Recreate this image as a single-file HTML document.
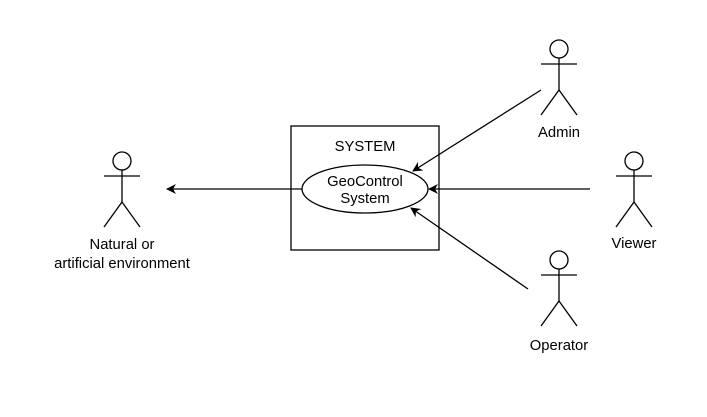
<!DOCTYPE html>
<html><head><style>body{margin:0;background:#fff}svg{display:block}</style></head><body>
<svg width="707" height="417" xmlns="http://www.w3.org/2000/svg" font-family="Liberation Sans, Arial, sans-serif" font-size="14.8">
<defs>
<g id="actor" fill="none" stroke="#000" stroke-width="1.3">
<circle cx="0" cy="0" r="9" fill="#fff"/>
<line x1="0" y1="9" x2="0" y2="41"/>
<line x1="-18" y1="15" x2="18" y2="15"/>
<line x1="0" y1="41" x2="-18" y2="66"/>
<line x1="0" y1="41" x2="18" y2="66"/>
</g>
<marker id="ah" markerWidth="10" markerHeight="10" refX="9" refY="5" orient="auto" markerUnits="userSpaceOnUse">
<path d="M0,0 L10,5 L0,10 L3,5 Z" fill="#000"/>
</marker>
</defs>
<rect x="291" y="126" width="148" height="124" fill="#fff" stroke="#000" stroke-width="1.3"/>
<text x="365" y="151" text-anchor="middle">SYSTEM</text>
<ellipse cx="365" cy="189" rx="63" ry="24" fill="#fff" stroke="#000" stroke-width="1.3"/>
<text x="365" y="186" text-anchor="middle">GeoControl</text>
<text x="365" y="203" text-anchor="middle">System</text>
<use href="#actor" x="122" y="161"/>
<use href="#actor" x="559" y="49"/>
<use href="#actor" x="634" y="161"/>
<use href="#actor" x="559" y="260"/>
<text x="122" y="249" text-anchor="middle">Natural or</text>
<text x="122" y="268" text-anchor="middle">artificial environment</text>
<text x="559" y="137" text-anchor="middle">Admin</text>
<text x="634" y="248" text-anchor="middle">Viewer</text>
<text x="559" y="350" text-anchor="middle">Operator</text>
<g stroke="#000" stroke-width="1.3" fill="none">
<line x1="302" y1="189" x2="167" y2="189" marker-end="url(#ah)"/>
<line x1="590" y1="189" x2="429" y2="189" marker-end="url(#ah)"/>
<line x1="541" y1="90" x2="413" y2="171" marker-end="url(#ah)"/>
<line x1="528" y1="289" x2="411" y2="208" marker-end="url(#ah)"/>
</g>
</svg>
</body></html>
